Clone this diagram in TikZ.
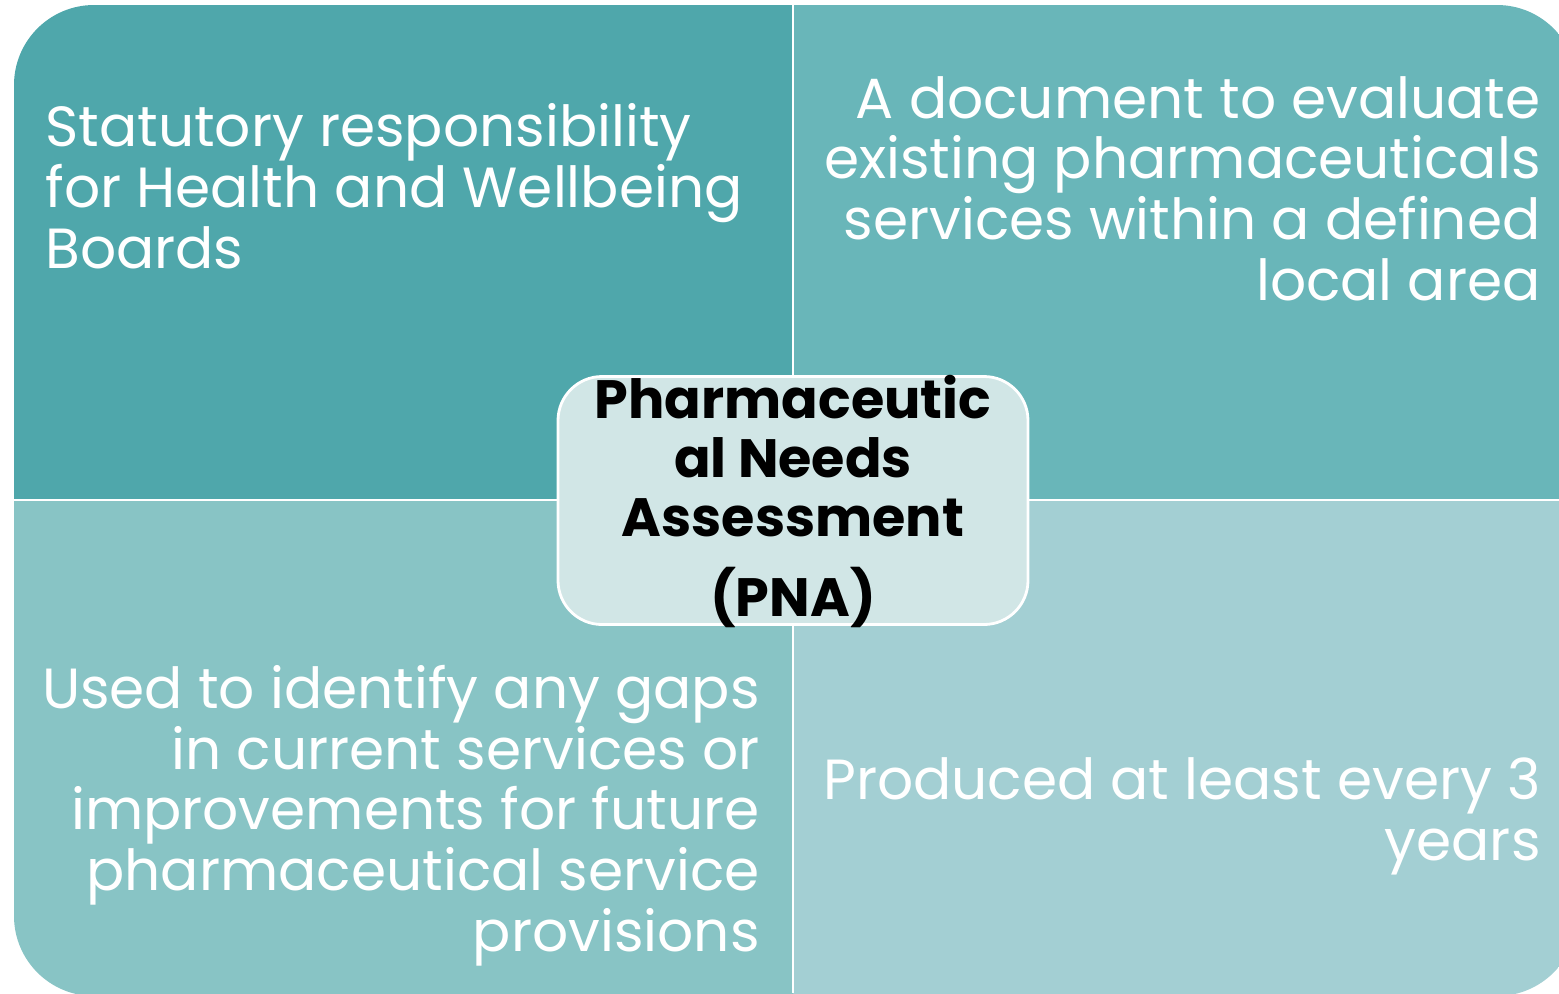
\documentclass[tikz,border=0pt]{standalone}
\usepackage{fontspec}
\setmainfont{Poppins}
\definecolor{quadA}{RGB}{79,167,171}
\definecolor{quadB}{RGB}{105,182,185}
\definecolor{quadC}{RGB}{136,196,197}
\definecolor{quadD}{RGB}{163,207,211}
\definecolor{hubfill}{RGB}{209,230,230}
\tikzset{
  quadtext/.style={text=white, inner sep=0pt, font=\fontsize{28.3}{30.3}\selectfont},
  hub/.style={draw=white, line width=1.4pt, fill=hubfill, rounded corners=22pt,
    minimum width=235pt, minimum height=124pt, inner sep=0pt},
  hubtext/.style={inner sep=0pt, font=\bfseries\fontsize{27}{29.5}\selectfont, align=center}
}
\begin{document}
\begin{tikzpicture}[x=0.5pt, y=-0.5pt]
  \useasboundingbox (0,0) rectangle (1559,993);

  % four quarters inside one rounded frame
  \begin{scope}
    \clip[rounded corners=40pt] (14,5) rectangle (1577,996);
    \fill[quadA] (14,5) rectangle (793,500);
    \fill[quadB] (793,5) rectangle (1577,500);
    \fill[quadC] (14,500) rectangle (793,996);
    \fill[quadD] (793,500) rectangle (1577,996);
  \end{scope}
  \draw[white, line width=1.4pt] (793,0) -- (793,993);
  \draw[white, line width=1.4pt] (0,500) -- (1559,500);

  % quarter texts (base = last line)
  \node[quadtext, align=left, anchor=base west] (duty) at (45,268)
    {Statutory responsibility\\for Health and Wellbeing\\Boards};
  \node[quadtext, align=right, anchor=base east] (scope) at (1541,300)
    {A document to evaluate\\existing pharmaceuticals\\services within a defined\\local area};
  \node[quadtext, align=right, anchor=base east] (gaps) at (760,951)
    {Used to identify any gaps\\in current services or\\improvements for future\\pharmaceutical service\\provisions};
  \node[quadtext, align=right, anchor=base east] (cycle) at (1541,860)
    {Produced at least every 3\\years};

  % centre box
  \node[hub] (pna) at (793,500.5) {};
  \node[hubtext, anchor=base] (title) at (793,536)
    {Pharmaceutic\\al Needs\\Assessment};
  \node[hubtext, anchor=base] (abbr) at (793,616) {(PNA)};
\end{tikzpicture}
\end{document}
